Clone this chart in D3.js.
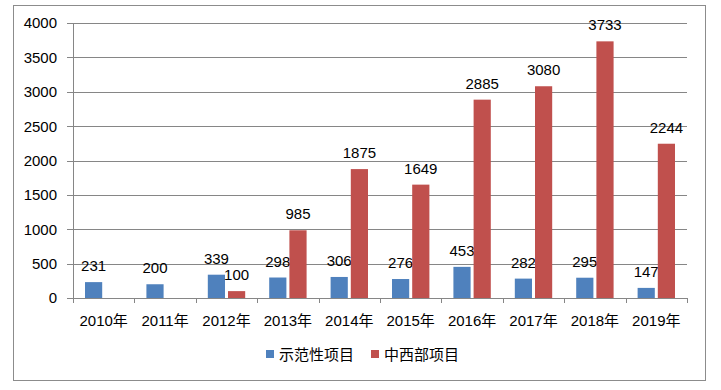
<!DOCTYPE html>
<html>
<head>
<meta charset="utf-8">
<script src="https://cdn.jsdelivr.net/npm/d3@7"></script>
<style>
  body { margin: 0; background: #fff; }
  text { font-family: "Liberation Sans", "Noto Sans CJK SC", sans-serif; fill: #000; }
</style>
</head>
<body>
<script>
// data
var years = ["2010年","2011年","2012年","2013年","2014年","2015年","2016年","2017年","2018年","2019年"];
var demo = [231, 200, 339, 298, 306, 276, 453, 282, 295, 147];       // 示范性项目
var midwest = [null, null, 100, 985, 1875, 1649, 2885, 3080, 3733, 2244]; // 中西部项目
var seriesNames = ["示范性项目", "中西部项目"];
var colors = ["#4F81BD", "#C0504D"];
var yTicks = [0, 500, 1000, 1500, 2000, 2500, 3000, 3500, 4000];

var width = 721, height = 390;
var padding = {left: 73, right: 34, top: 23, bottom: 92};

var svg = d3.select("body")
  .append("svg")
  .attr("width", width)
  .attr("height", height);

// outer frame
svg.append("rect")
  .attr("x", 13.5).attr("y", 5.5)
  .attr("width", 692).attr("height", 375)
  .attr("fill", "none")
  .attr("stroke", "#8c8c8c")
  .attr("stroke-width", 1);

var xScale = d3.scaleBand()
  .domain(years)
  .range([padding.left, width - padding.right]);

var yScale = d3.scaleLinear()
  .domain([0, 4000])
  .range([height - padding.bottom, padding.top]);

var barW = xScale.bandwidth() * 0.28;
var gap = 3;

// gridlines
svg.selectAll(".grid")
  .data(yTicks)
  .enter()
  .append("line")
  .attr("class", "grid")
  .attr("x1", padding.left - 6)
  .attr("x2", width - padding.right)
  .attr("y1", function(d){ return Math.round(yScale(d)) + 0.5; })
  .attr("y2", function(d){ return Math.round(yScale(d)) + 0.5; })
  .attr("stroke", "#868686");

// y axis line
svg.append("line")
  .attr("x1", padding.left + 0.5).attr("x2", padding.left + 0.5)
  .attr("y1", Math.round(yScale(4000)))
  .attr("y2", Math.round(yScale(0)) + 0.5)
  .attr("stroke", "#868686");

// y labels
svg.selectAll(".ylab")
  .data(yTicks)
  .enter()
  .append("text")
  .attr("class", "ylab")
  .attr("x", 57)
  .attr("y", function(d){ return yScale(d); })
  .attr("dy", "0.36em")
  .attr("text-anchor", "end")
  .style("font-size", "15px")
  .text(function(d){ return d; });

// x ticks at category boundaries
var bounds = years.map(function(y){ return xScale(y); }).concat([width - padding.right]);
svg.selectAll(".xtick")
  .data(bounds)
  .enter()
  .append("line")
  .attr("class", "xtick")
  .attr("x1", function(d){ return Math.round(d) + 0.5; })
  .attr("x2", function(d){ return Math.round(d) + 0.5; })
  .attr("y1", Math.round(yScale(0)))
  .attr("y2", Math.round(yScale(0)) + 5)
  .attr("stroke", "#868686");

// x labels
svg.selectAll(".xlab")
  .data(years)
  .enter()
  .append("text")
  .attr("class", "xlab")
  .attr("x", function(d){ return xScale(d) + xScale.bandwidth() / 2; })
  .attr("y", 326)
  .attr("text-anchor", "middle")
  .style("font-size", "15px")
  .text(function(d){ return d; });

// bars
[demo, midwest].forEach(function(series, s){
  var rows = years.map(function(y, i){ return {year: y, value: series[i]}; })
    .filter(function(d){ return d.value !== null; });
  var xOf = function(d){
    var c = xScale(d.year) + xScale.bandwidth() / 2;
    return s === 0 ? c - gap / 2 - barW : c + gap / 2;
  };
  svg.selectAll(".bar" + s)
    .data(rows)
    .enter()
    .append("rect")
    .attr("class", "bar" + s)
    .attr("x", xOf)
    .attr("y", function(d){ return yScale(d.value); })
    .attr("width", barW)
    .attr("height", function(d){ return yScale(0) - yScale(d.value); })
    .attr("fill", colors[s]);

  svg.selectAll(".val" + s)
    .data(rows)
    .enter()
    .append("text")
    .attr("class", "val" + s)
    .attr("x", function(d){ return xOf(d) + barW / 2; })
    .attr("y", function(d){ return yScale(d.value) - 11; })
    .attr("text-anchor", "middle")
    .style("font-size", "15px")
    .text(function(d){ return d.value; });
});

// legend
var legendX = [266, 371];
seriesNames.forEach(function(name, s){
  svg.append("rect")
    .attr("x", legendX[s]).attr("y", 350)
    .attr("width", 8).attr("height", 8)
    .attr("fill", colors[s]);
  svg.append("text")
    .attr("x", legendX[s] + 13)
    .attr("y", 360)
    .style("font-size", "15px")
    .text(name);
});
</script>
</body>
</html>
